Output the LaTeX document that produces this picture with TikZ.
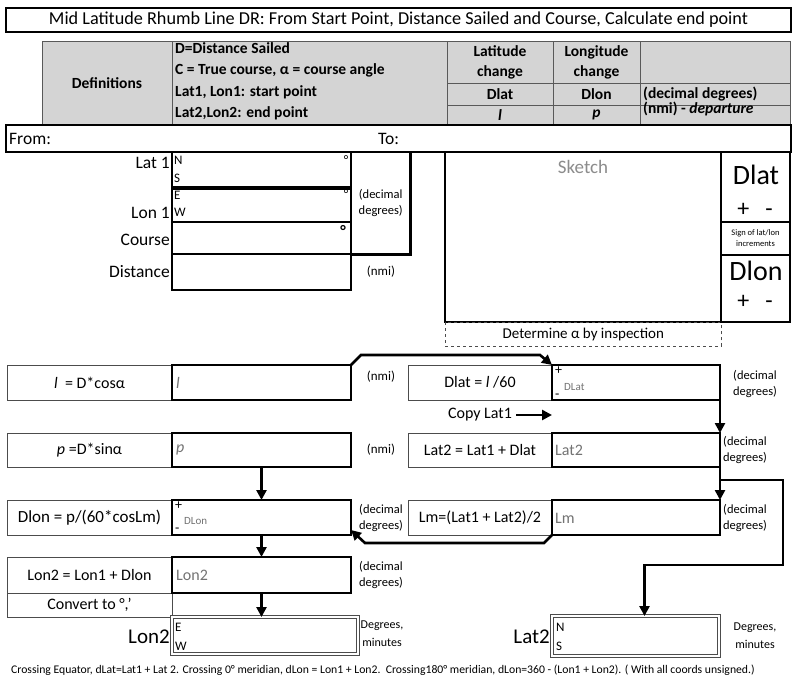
\documentclass[tikz,border=0pt]{standalone}
\usepackage{fontspec}
\setmainfont{Carlito}
\usetikzlibrary{arrows.meta,calc}
\newcommand{\fsz}[2]{\fontsize{#1}{#2}\selectfont}

\begin{document}
\begin{tikzpicture}[x=1pt, y=-1pt, >={Triangle[length=10pt,width=10pt]},
    cell/.style={draw=black!65, line width=.7pt, fill=black!17, inner sep=0, outer sep=0,
      anchor=north west, align=center, font=\fsz{15.5}{20}\bfseries},
    fbox/.style={draw=black!70, line width=.8pt, inner sep=0, outer sep=0, anchor=north west,
      minimum width=165, font=\fsz{16}{19}},
    vbox/.style={draw, line width=2.6pt, inner sep=0, outer sep=0, anchor=north west},
    finbox/.style={draw=black!70, double, double distance=1.8pt, line width=.8pt,
      inner sep=0, outer sep=0, anchor=north west},
    lbl/.style={anchor=east, inner sep=1pt, font=\fsz{17.5}{20}},
    unit/.style={inner sep=0, align=center, font=\fsz{12.5}{16}},
    nsew/.style={anchor=west, inner sep=0, font=\fsz{13}{15}},
    deg/.style={inner sep=0, font=\fsz{13}{15}},
    valtxt/.style={anchor=west, inner sep=0, text=black!55, font=\fsz{16}{18}},
    pm/.style={anchor=west, inner sep=0, font=\fsz{14}{15}},
    conn/.style={->, line width=2.6pt}]
  \useasboundingbox[fill=white] (0,0) rectangle (800,687);

  % title
  \node[vbox, minimum width=785, minimum height=24, font=\fsz{18.2}{20}] (title) at (6,8)
    {Mid Latitude Rhumb Line DR: From Start Point, Distance Sailed and Course, Calculate end point};

  % definitions table
  \node[cell, minimum width=130, minimum height=84] (defhead) at (42,41) {Definitions};
  \node[cell, minimum width=275, minimum height=84] (deflist) at (172,41) {};
  \node[cell, minimum width=106, minimum height=42] (latch) at (447,41) {Latitude\\change};
  \node[cell, minimum width=87, minimum height=42] (lonch) at (553,41) {Longitude\\change};
  \node[cell, minimum width=150, minimum height=42] (blankhd) at (640,41) {};
  \node[cell, minimum width=106, minimum height=22] (dlathd) at (447,83) {Dlat};
  \node[cell, minimum width=87, minimum height=22] (dlonhd) at (553,83) {Dlon};
  \node[cell, minimum width=150, minimum height=22] (deghd) at (640,83) {};
  \node[cell, minimum width=106, minimum height=20] (lhd) at (447,105) {\itshape l};
  \node[cell, minimum width=87, minimum height=20] (phd) at (553,105) {\itshape p};
  \node[cell, minimum width=150, minimum height=20] (nmihd) at (640,105) {};
  \node[anchor=west, inner sep=0, font=\fsz{15.5}{18}\bfseries] (def1) at (175,48) {D=Distance Sailed};
  \node[anchor=west, inner sep=0, font=\fsz{15.5}{18}\bfseries] (def2) at (175,70) {C = True course, α = course angle};
  \node[anchor=west, inner sep=0, font=\fsz{15.5}{18}\bfseries] (def3) at (175,92) {Lat1, Lon1: start point};
  \node[anchor=west, inner sep=0, font=\fsz{15.5}{18}\bfseries] (def4) at (175,113) {Lat2,Lon2: end point};
  \node[anchor=west, inner sep=0, font=\fsz{15.5}{18}\bfseries] (degtxt) at (643,94) {(decimal degrees)};
  \node[anchor=west, inner sep=0, font=\fsz{15.5}{18}\bfseries] (nmitxt) at (643,109) {(nmi) - \textit{departure}};

  % from / to
  \node[vbox, minimum width=785, minimum height=27] (frombar) at (6,125) {};
  \node[anchor=west, inner sep=0, font=\fsz{17.5}{20}] (fromtxt) at (9,139) {From:};
  \node[anchor=west, inner sep=0, font=\fsz{17.5}{20}] (totxt) at (378,139) {To:};

  % start point input
  \node[vbox, line width=2pt, minimum width=179, minimum height=35] (lat1val) at (172,152) {};
  \node[vbox, line width=2pt, minimum width=179, minimum height=33] (lon1val) at (172,189) {};
  \node[vbox, minimum width=179, minimum height=32] (crsval) at (172,222) {};
  \node[vbox, minimum width=179, minimum height=36] (distval) at (172,254) {};
  \node[lbl] (lat1lbl) at (171,163) {Lat 1};
  \node[lbl] (lon1lbl) at (171,213) {Lon 1};
  \node[lbl] (crslbl) at (171,240) {Course};
  \node[lbl] (distlbl) at (171,272) {Distance};
  \node[nsew] (lat1n) at (174,160) {N};
  \node[nsew] (lat1s) at (174,178) {S};
  \node[nsew] (lon1e) at (174,195) {E};
  \node[nsew] (lon1w) at (174,212) {W};
  \node[deg] (lat1deg) at (346,160) {°};
  \node[deg] (lon1deg) at (346,194) {°};
  \node[deg, font=\fsz{16}{18}\bfseries] (crsdeg) at (343,231) {°};
  \node[unit, anchor=north west, minimum width=59, minimum height=102] (decunit) at (351,152) {(decimal\\degrees)};
  \draw[line width=2.6pt] (decunit.north east) -- (decunit.south east) -- (decunit.south west);
  \node[unit, font=\fsz{13}{16}] (distunit) at (381,272) {(nmi)};

  % sketch and signs
  \node[vbox, minimum width=276, minimum height=170] (sketch) at (445,152) {};
  \node[inner sep=0, text=black!45, font=\fsz{19}{22}] (sketchtxt) at (583,167) {Sketch};
  \node[draw=black!70, dashed, line width=.7pt, anchor=north west, minimum width=276,
    minimum height=24, inner sep=0, font=\fsz{15}{18}] (inspect) at (445,322) {Determine α by inspection};
  \node[vbox, minimum width=69, minimum height=70] (dlatsign) at (721,152) {};
  \node[inner sep=0, font=\fsz{28}{30}] (dlatbig) at (756,175) {Dlat};
  \node[inner sep=0, font=\fsz{24}{26}] (dlatpm) at (755,210) {+\hspace{16pt}-};
  \node[vbox, minimum width=69, minimum height=33, align=center, font=\fsz{8.5}{11}] (signnote) at (721,222)
    {Sign of lat/lon\\increments};
  \node[vbox, minimum width=69, minimum height=67] (dlonsign) at (721,255) {};
  \node[inner sep=0, font=\fsz{28}{30}] (dlonbig) at (756,271) {Dlon};
  \node[inner sep=0, font=\fsz{24}{26}] (dlonpm) at (755,302) {+\hspace{16pt}-};

  % calculation, left column
  \node[fbox, minimum height=35] (lform) at (7,365) {\textit{l}\ \ = D*cosα};
  \node[fbox, minimum height=34] (pform) at (7,433) {\textit{p} =D*sinα};
  \node[fbox, minimum height=35, font=\fsz{17}{19}] (dlonform) at (7,500) {Dlon = p/(60*cosLm)};
  \node[fbox, minimum height=36] (lon2form) at (7,557) {Lon2 = Lon1 + Dlon};
  \node[fbox, minimum height=24] (convform) at (7,593) {Convert to °,'};
  \node[vbox, minimum width=179, minimum height=35] (lval) at (172,365) {};
  \node[vbox, minimum width=179, minimum height=34] (pval) at (172,433) {};
  \node[vbox, minimum width=179, minimum height=35] (dlonval) at (172,500) {};
  \node[vbox, minimum width=179, minimum height=36] (lon2val) at (172,557) {};
  \node[valtxt] (ltxt) at (176,383) {\textit{l}};
  \node[valtxt] (ptxt) at (176,450) {\textit{p}};
  \node[pm] (dlonplus) at (175,506) {+};
  \node[pm] (dlonminus) at (175,530) {-};
  \node[valtxt, font=\fsz{11}{13}] (dlontxt) at (184,521) {DLon};
  \node[valtxt] (lon2txt) at (176,575) {Lon2};
  \node[unit, font=\fsz{13}{16}] (lunit) at (381,377) {(nmi)};
  \node[unit, font=\fsz{13}{16}] (punit) at (381,450) {(nmi)};
  \node[unit] (dlonunit) at (381,518) {(decimal\\degrees)};
  \node[unit] (lon2unit) at (381,575) {(decimal\\degrees)};

  % calculation, right column
  \node[fbox, minimum width=144, minimum height=35] (dlatform) at (408,365) {Dlat = \textit{l} /60};
  \node[fbox, minimum width=144, minimum height=34] (lat2form) at (408,433) {Lat2 = Lat1 + Dlat};
  \node[fbox, minimum width=144, minimum height=35] (lmform) at (408,500) {Lm=(Lat1 + Lat2)/2};
  \node[vbox, minimum width=168, minimum height=35] (dlatval) at (552,365) {};
  \node[vbox, minimum width=168, minimum height=34] (lat2val) at (552,433) {};
  \node[vbox, minimum width=168, minimum height=35] (lmval) at (552,500) {};
  \node[pm] (dlatplus) at (555,371) {+};
  \node[pm] (dlatminus) at (555,396) {-};
  \node[valtxt, font=\fsz{11}{13}] (dlattxt) at (564,387) {DLat};
  \node[valtxt] (lat2txt) at (555,450) {Lat2};
  \node[valtxt] (lmtxt) at (555,518) {Lm};
  \node[unit] (dlatunit) at (755,384) {(decimal\\degrees)};
  \node[unit] (lat2unit) at (745,450) {(decimal\\degrees)};
  \node[unit] (lmunit) at (745,518) {(decimal\\degrees)};
  \node[inner sep=0, font=\fsz{16}{19}] (copytxt) at (480,415) {Copy Lat1};

  % results
  \node[finbox, minimum width=186, minimum height=37] (lon2fin) at (172,617) {};
  \node[finbox, minimum width=167, minimum height=40] (lat2fin) at (552,616) {};
  \node[lbl, font=\fsz{21}{24}] (lon2lbl) at (171,637) {Lon2};
  \node[lbl, font=\fsz{21}{24}] (lat2lbl) at (551,637) {Lat2};
  \node[nsew] (lon2e) at (175,627) {E};
  \node[nsew] (lon2w) at (175,646) {W};
  \node[nsew] (lat2n) at (556,627) {N};
  \node[nsew] (lat2s) at (556,646) {S};
  \node[unit, font=\fsz{12}{18}] (lon2dm) at (382,634) {Degrees,\\minutes};
  \node[unit, font=\fsz{12}{18}] (lat2dm) at (755,636) {Degrees,\\minutes};
  \node[inner sep=0, font=\fsz{11.7}{13}] (footer) at (383,670)
    {Crossing Equator, dLat=Lat1 + Lat 2. Crossing 0° meridian, dLon = Lon1 + Lon2.\ \ Crossing180° meridian, dLon=360 - (Lon1 + Lon2). ( With all coords unsigned.)};

  % connectors
  \draw[conn] (lval.north east) -- ++(10,-10) -- ($(dlatval.north west)+(-12,-10)$) -- (dlatval.north west);
  \draw[conn] (dlatval.south east) -- (lat2val.north east);
  \draw[conn] (lat2val.south east) -- (lmval.north east);
  \coordinate (split) at ($(lat2val.south east)+(0,13)$);
  \draw[conn] (split) -- ++(63,0) -- ++(0,85) -| ($(lat2fin.north)+(9,0)$);
  \draw[conn] (lmval.south west) -- ++(-8,8) -- ($(dlonval.south east)+(14,8)$) -- ($(dlonval.south east)+(0,-5)$);
  \draw[conn] (copytxt.east) ++(4,0) -- (copytxt.east -| lat2val.west);
  \draw[conn] (pval.south) -- (dlonval.north);
  \draw[conn] (dlonval.south) -- (lon2val.north);
  \draw[conn] (lon2val.south) -- (lon2val.south |- lon2fin.north);
\end{tikzpicture}
\end{document}
